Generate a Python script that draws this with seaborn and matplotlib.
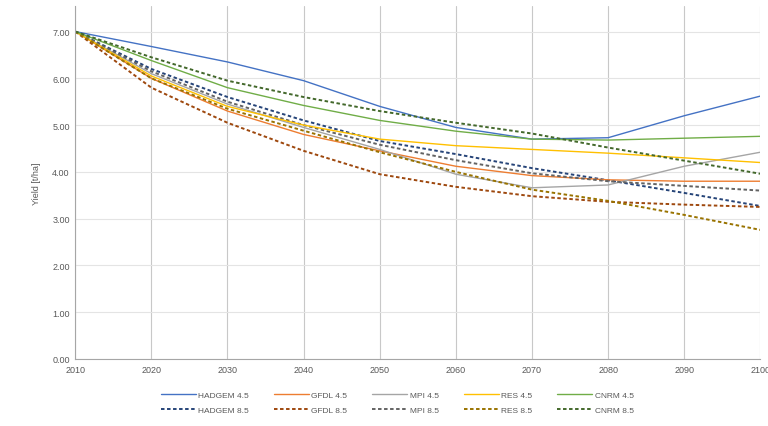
"""
Yield projections per climate model and RCP scenario, 2010-2100.
"""

import matplotlib
matplotlib.use("Agg")
import matplotlib.pyplot as plt
import seaborn as sns
import pandas as pd

years = [2010, 2020, 2030, 2040, 2050, 2060, 2070, 2080, 2090, 2100]

hadgem_45 = [7.00, 6.68, 6.35, 5.95, 5.40, 4.95, 4.70, 4.73, 5.20, 5.62]
gfdl_45 = [7.00, 6.00, 5.30, 4.80, 4.45, 4.12, 3.92, 3.83, 3.80, 3.80]
mpi_45 = [7.00, 6.10, 5.45, 4.95, 4.48, 3.95, 3.66, 3.72, 4.12, 4.42]
res_45 = [7.00, 6.05, 5.40, 5.00, 4.70, 4.56, 4.48, 4.40, 4.30, 4.20]
cnrm_45 = [7.00, 6.38, 5.80, 5.42, 5.10, 4.87, 4.70, 4.68, 4.72, 4.76]

hadgem_85 = [7.00, 6.20, 5.60, 5.10, 4.66, 4.38, 4.08, 3.82, 3.55, 3.27]
gfdl_85 = [7.00, 5.80, 5.05, 4.45, 3.95, 3.68, 3.48, 3.36, 3.30, 3.25]
mpi_85 = [7.00, 6.15, 5.50, 5.00, 4.58, 4.25, 3.97, 3.80, 3.70, 3.60]
res_85 = [7.00, 6.00, 5.35, 4.88, 4.42, 4.00, 3.62, 3.38, 3.08, 2.76]
cnrm_85 = [7.00, 6.45, 5.95, 5.60, 5.30, 5.05, 4.82, 4.52, 4.24, 3.96]

models = ["HADGEM", "GFDL", "MPI", "RES", "CNRM"]
values_45 = [hadgem_45, gfdl_45, mpi_45, res_45, cnrm_45]
values_85 = [hadgem_85, gfdl_85, mpi_85, res_85, cnrm_85]
y_ticks = [0, 1, 2, 3, 4, 5, 6, 7]
x_ticks = [2010, 2020, 2030, 2040, 2050, 2060, 2070, 2080, 2090, 2100]

colors_45 = ["#4472C4", "#ED7D31", "#A5A5A5", "#FFC000", "#70AD47"]
colors_85 = ["#264478", "#9E480E", "#636363", "#997300", "#43682B"]

sns.set_style("white")
plt.rcParams["font.family"] = ["Liberation Sans", "DejaVu Sans"]

fig = plt.figure(figsize=(7.68, 4.27), dpi=100)
ax = fig.add_axes([0.098, 0.157, 0.892, 0.827])

# solid line for 4.5, dashed for 8.5; ordered so the legend rows split by scenario
for name, v45, v85, c45, c85 in zip(models, values_45, values_85, colors_45, colors_85):
    sns.lineplot(x=years, y=v45, ax=ax, color=c45, linewidth=1.0,
                 label=f"{name} 4.5")
    sns.lineplot(x=years, y=v85, ax=ax, color=c85, linewidth=1.4,
                 linestyle=(0, (1.8, 1.3)), label=f"{name} 8.5")

ax.set_xlim(2010, 2100)
ax.set_ylim(0, 7.55)
ax.set_xticks(x_ticks)
ax.set_yticks(y_ticks)
ax.set_yticklabels([f"{t:.2f}" for t in y_ticks])
ax.tick_params(axis="both", labelsize=6.5, colors="#595959", length=0, pad=4)

ax.grid(True, axis="x", color="#C8C8C8", linewidth=0.8)
ax.grid(True, axis="y", color="#E4E4E4", linewidth=0.8)
ax.set_axisbelow(True)
for side in ["top", "right"]:
    ax.spines[side].set_visible(False)
for side in ["left", "bottom"]:
    ax.spines[side].set_color("#A6A6A6")
    ax.spines[side].set_linewidth(0.8)

ax.set_xlabel("")
ax.set_ylabel("Yield [t/ha]", fontsize=6.5, color="#595959", labelpad=8)

ax.legend(loc="upper center", bbox_to_anchor=(0.47, -0.07), ncol=5,
          frameon=False, fontsize=6, labelcolor="#595959", handlelength=4.2,
          columnspacing=3.0, handletextpad=0.3, labelspacing=0.9)

fig.savefig("out.png", dpi=100)
